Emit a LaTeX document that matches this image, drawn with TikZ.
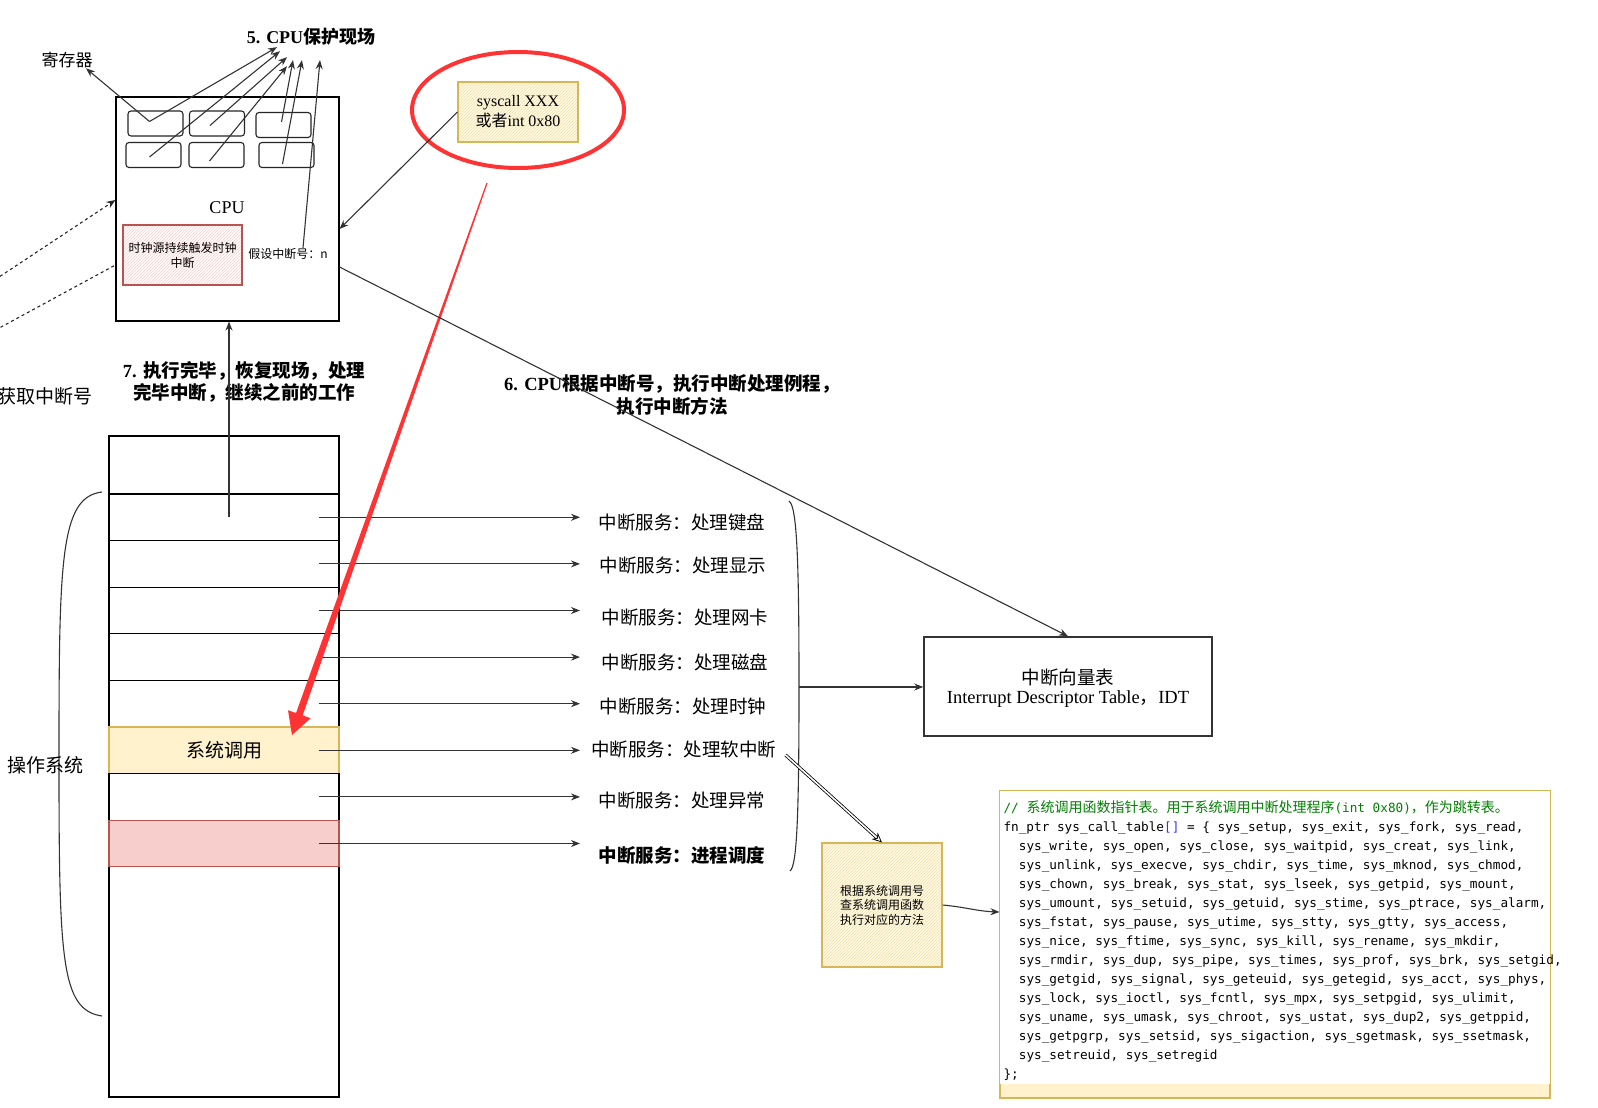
\documentclass[tikz,border=0pt]{standalone}
\usepackage{fontspec}
\setmainfont{Liberation Serif}
\newfontfamily\cjk{Noto Sans CJK SC}
\newfontfamily\codefont{DejaVu Sans Mono}
\usetikzlibrary{arrows.meta,shapes.geometric,patterns,calc}
\definecolor{alertred}{HTML}{FF3333}
\definecolor{noteyellow}{HTML}{FFF2CC}
\definecolor{noteborder}{HTML}{D6B656}
\definecolor{notered}{HTML}{F8CECC}
\definecolor{redborder}{HTML}{B85450}
\definecolor{hatchyellow}{HTML}{F1E2A6}
\definecolor{commentgreen}{HTML}{008000}
\definecolor{codeblue}{HTML}{3333FF}
\tikzset{
  arr/.style={-{Stealth[length=9pt,width=7pt]}, draw=black!80},
  reg/.style={draw=black!85, rounded corners=3pt, minimum width=55pt, minimum height=25pt, inner sep=0pt},
  rowbox/.style={minimum width=230pt, minimum height=46.6pt, inner sep=0pt},
  svc/.style={inner sep=0pt, font=\cjk\fontsize{18.5pt}{22pt}\selectfont},
  sketchy/.style={draw=noteborder, preaction={fill=noteyellow!45}, pattern=north east lines, pattern color=hatchyellow},
}
\begin{document}
\begin{tikzpicture}[x=1pt,y=-1pt,line width=1.1pt]
  \path[use as bounding box, fill=white] (0,0) rectangle (1598,1108);

  \node[draw, minimum width=223pt, minimum height=224pt, inner sep=0pt] (cpu) at (227.5,209) {};
  \node[reg] (r1) at (155.5,123.5) {};
  \node[reg] (r2) at (217,123.5) {};
  \node[reg] (r3) at (283.5,125) {};
  \node[reg] (r4) at (153.5,155) {};
  \node[reg] (r5) at (216.5,155) {};
  \node[reg] (r6) at (286.5,155) {};
  \node[inner sep=0pt, font=\fontsize{18pt}{22pt}\selectfont] (cpulbl) at (227,208) {CPU};
  \node[draw=redborder, preaction={fill=white}, pattern=north east lines, pattern color=red!20,
        minimum width=119pt, minimum height=60pt, inner sep=0pt, align=center,
        font=\cjk\fontsize{12pt}{15pt}\selectfont] (clock) at (182.5,255) {时钟源持续触发时钟\\中断};
  \node[inner sep=0pt, font=\cjk\fontsize{12pt}{14pt}\selectfont] (nlab) at (288,254) {假设中断号：n};

  \node[inner sep=0pt, font=\cjk\fontsize{17pt}{20pt}\selectfont] (regs) at (67,60) {寄存器};
  \node[inner sep=0pt, font=\bfseries\fontsize{18pt}{22pt}\selectfont] (save) at (311,37) {5. CPU{\cjk 保护现场}};

  \draw[arr] ([xshift=-6pt,yshift=2pt]r1.center) -- ([xshift=-7pt]regs.south east);
  \draw[arr] ([xshift=-6pt,yshift=2pt]r1.center) -- ([xshift=-34pt,yshift=-1pt]save.south);
  \draw[arr] ([xshift=-4pt,yshift=-2pt]r4.center) -- ([xshift=-31pt,yshift=-5pt]save.south);
  \draw[arr] ([xshift=-7pt,yshift=-2pt]r2.center) -- ([xshift=-24pt,yshift=-11pt]save.south);
  \draw[arr] ([xshift=-7pt,yshift=-6pt]r5.center) -- ([xshift=-24pt,yshift=-20pt]save.south);
  \draw[arr] ([xshift=-2pt,yshift=3pt]r3.center) -- ([xshift=-18pt,yshift=-14pt]save.south);
  \draw[arr] ([xshift=-4pt,yshift=-9pt]r6.center) -- ([xshift=-9pt,yshift=-14pt]save.south);
  \draw[arr] ([xshift=15pt]nlab.north) -- ([xshift=9pt,yshift=-14pt]save.south);

  \coordinate (left1) at (-10,283);
  \coordinate (left2) at (-10,333);
  \draw[dashed, black!85, -{Stealth[length=9pt,width=7pt]}] (left1) -- ([yshift=9pt]cpu.west);
  \draw[dashed, black!85] (left2) -- ([yshift=-56pt]cpu.west);

  \node[draw=alertred, line width=4pt, ellipse, minimum width=212pt, minimum height=116pt] (ring) at (518,110) {};
  \node[sketchy, minimum width=120pt, minimum height=60pt, inner sep=0pt, align=center,
        font=\fontsize{16pt}{20pt}\selectfont] (syscall) at (518,112) {syscall XXX\\{\cjk 或者}int 0x80};
  \draw[arr] (syscall.west) -- ([yshift=-20pt]cpu.east);

  \node[anchor=east, inner sep=0pt, font=\cjk\fontsize{19pt}{22pt}\selectfont] (fetch) at (93,396) {获取中断号};
  \node[inner sep=0pt, align=center, font=\bfseries\fontsize{18.5pt}{22pt}\selectfont] (restore) at (244,382)
    {7. {\cjk 执行完毕，恢复现场，处理}\\{\cjk 完毕中断，继续之前的工作}};
  \node[inner sep=0pt, align=center, font=\bfseries\fontsize{18.5pt}{23pt}\selectfont] (route) at (672,395)
    {6. CPU{\cjk 根据中断号，执行中断处理例程，}\\{\cjk 执行中断方法}};

  \node[draw, minimum width=230pt, minimum height=661pt, inner sep=0pt] (os) at (224,766.5) {};
  \foreach \col/\edge [count=\i] in {white/black,white/black,white/black,white/black,white/black,noteyellow/noteborder,white/black,notered/redborder}
    \node[rowbox, draw=\edge, fill=\col] (row\i) at (224,{494+46.6*(\i-0.5)}) {};
  \node[inner sep=0pt, font=\cjk\fontsize{19pt}{22pt}\selectfont] (sysc) at (row6) {系统调用};

  \draw[black!80] (102,492) .. controls (60,497) and (59,560) .. (59,760) .. controls (59,960) and (61,1010) .. (102,1016);
  \node[inner sep=0pt, font=\cjk\fontsize{19pt}{22pt}\selectfont] (oslbl) at (46,765) {操作系统};

  \coordinate (svcin) at (580,0);
  \foreach \i in {1,...,8}
    \draw[arr] ([xshift=-21pt]row\i.east) -- (row\i.east -| svcin);
  \foreach \txt/\x/\y [count=\i] in {处理键盘/682/522,处理显示/683/565,处理网卡/685/617,处理磁盘/685/662,处理时钟/683/706,处理软中断/683.5/749,处理异常/682/800}
    \node[svc] (svc\i) at (\x,\y) {中断服务：\txt};
  \node[svc, font=\cjk\bfseries\fontsize{18.5pt}{22pt}\selectfont] (svc8) at (682,855) {中断服务：进程调度};

  \draw[arr] ([xshift=5pt]row1.center) -- ([xshift=5pt]row1.center |- cpu.south);

  \coordinate (redtail) at (487,183);
  \coordinate (redtip) at (292,735);
  \coordinate (redbase) at ($(redtip)!22pt!(redtail)$);
  \fill[alertred] ($(redtail)!0.6pt!90:(redtip)$) -- ($(redbase)!3.5pt!90:(redtip)$) -- ($(redbase)!12pt!90:(redtip)$)
    -- (redtip) -- ($(redbase)!12pt!-90:(redtip)$) -- ($(redbase)!3.5pt!-90:(redtip)$) -- ($(redtail)!0.6pt!-90:(redtip)$) -- cycle;

  \draw[black!80] (789,501) .. controls (797,506) and (799,560) .. (799,687) .. controls (799,815) and (797,866) .. (790,871);
  \coordinate (bracetip) at (799,687);

  \node[draw=black!80, line width=1.5pt, minimum width=288pt, minimum height=99pt, inner sep=0pt] (idt) at (1068,686.5) {};
  \node[inner sep=0pt, font=\cjk\fontsize{18.5pt}{22pt}\selectfont] (idtcn) at ([yshift=9.5pt]idt.center) {中断向量表};
  \node[inner sep=0pt, font=\fontsize{18.5pt}{22pt}\selectfont] (idten) at ([yshift=-12.5pt]idt.center) {Interrupt Descriptor Table{\cjk ，}IDT};
  \draw[arr] (bracetip) -- (bracetip -| idt.west);
  \draw[arr] ([yshift=-58pt]cpu.east) -- (idt.north);

  \node[sketchy, minimum width=120pt, minimum height=124pt, inner sep=0pt, align=center,
        font=\cjk\fontsize{12pt}{14.5pt}\selectfont] (lookup) at (882,905) {根据系统调用号\\查系统调用函数\\执行对应的方法};
  \draw[double, line width=0.8pt, double distance=1.6pt, -{Stealth[open,length=10pt,width=9pt]}] ([xshift=9pt,yshift=-6pt]svc6.east) -- (lookup.north);

  \node[draw=noteborder, fill=noteyellow, minimum width=550pt, minimum height=307pt, inner sep=0pt] (code) at (1275,944.5) {};
  \fill[white] ([shift={(1pt,-1pt)}]code.north west) rectangle ([shift={(-1pt,15pt)}]code.south east);
  \draw[arr] (lookup.east) to[out=-5,in=178] ([yshift=32.5pt]code.west);
  \node[anchor=north west, inner sep=0pt, align=left, font=\codefont\fontsize{12.7pt}{19pt}\selectfont] (codetext) at (1003,800) {%
\textcolor{commentgreen}{// {\cjk\fontsize{14pt}{19pt}\selectfont 系统调用函数指针表。用于系统调用中断处理程序}(int 0x80){\cjk\fontsize{14pt}{19pt}\selectfont ，作为跳转表。}}\\
fn\_ptr sys\_call\_table\textcolor{codeblue}{[]} = \{ sys\_setup, sys\_exit, sys\_fork, sys\_read,\\
\hphantom{xx}sys\_write, sys\_open, sys\_close, sys\_waitpid, sys\_creat, sys\_link,\\
\hphantom{xx}sys\_unlink, sys\_execve, sys\_chdir, sys\_time, sys\_mknod, sys\_chmod,\\
\hphantom{xx}sys\_chown, sys\_break, sys\_stat, sys\_lseek, sys\_getpid, sys\_mount,\\
\hphantom{xx}sys\_umount, sys\_setuid, sys\_getuid, sys\_stime, sys\_ptrace, sys\_alarm,\\
\hphantom{xx}sys\_fstat, sys\_pause, sys\_utime, sys\_stty, sys\_gtty, sys\_access,\\
\hphantom{xx}sys\_nice, sys\_ftime, sys\_sync, sys\_kill, sys\_rename, sys\_mkdir,\\
\hphantom{xx}sys\_rmdir, sys\_dup, sys\_pipe, sys\_times, sys\_prof, sys\_brk, sys\_setgid,\\
\hphantom{xx}sys\_getgid, sys\_signal, sys\_geteuid, sys\_getegid, sys\_acct, sys\_phys,\\
\hphantom{xx}sys\_lock, sys\_ioctl, sys\_fcntl, sys\_mpx, sys\_setpgid, sys\_ulimit,\\
\hphantom{xx}sys\_uname, sys\_umask, sys\_chroot, sys\_ustat, sys\_dup2, sys\_getppid,\\
\hphantom{xx}sys\_getpgrp, sys\_setsid, sys\_sigaction, sys\_sgetmask, sys\_ssetmask,\\
\hphantom{xx}sys\_setreuid, sys\_setregid\\
\};};
\end{tikzpicture}
\end{document}
